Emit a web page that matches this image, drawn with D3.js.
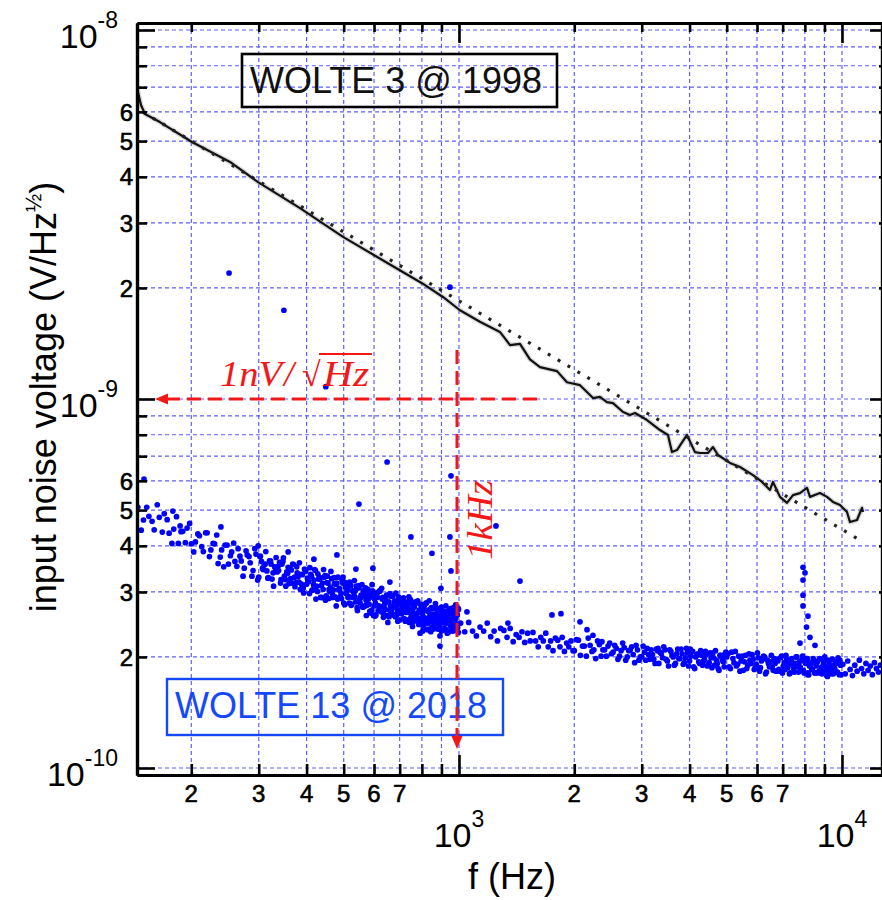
<!DOCTYPE html>
<html><head><meta charset="utf-8">
<script src="https://cdn.jsdelivr.net/npm/d3@7"></script>
<style>body{margin:0;background:#fff}svg{display:block}</style>
</head><body>
<svg id="c" width="882" height="900"></svg>
<script>
// ---------- DATA ----------
// WOLTE 3 @ 1998 measured curve (Hz, nV/sqrt(Hz))
const oldFreq = [144.3,147.8,151.4,165.6,200.9,252.4,298.7,384.5,498,697,800.6,908,1006,1134,1279,1359,1443,1532,1627,1803,1914,2070,2239,2334,2434,2524,2681,2796,2881,3097,3348,3513,3598,3708,3938,4132,4258,4468,4605,4745,5100,5417,5857,6183,6486,6604,6889,7185,7450,7769,8103,8250,8760,9138,9474,9881,10306,10493,10945,11278,11346];
const oldNoise = [6.96,6.26,5.92,5.63,4.97,4.39,3.87,3.29,2.75,2.24,2.06,1.89,1.74,1.62,1.52,1.40,1.41,1.28,1.22,1.19,1.11,1.09,1.006,1.013,0.981,0.975,0.922,0.905,0.916,0.877,0.824,0.799,0.718,0.727,0.799,0.718,0.714,0.714,0.741,0.705,0.671,0.654,0.622,0.596,0.567,0.596,0.543,0.523,0.549,0.556,0.574,0.543,0.556,0.543,0.526,0.516,0.494,0.464,0.470,0.507,0.494];
// WOLTE 3 fit (dotted), nV/sqrt(Hz)
const fitFreq = [149.6, 11011];
const fitNoise = [5.99, 0.4174];

// WOLTE 13 @ 2018 measured points, units of 1e-10 V/sqrt(Hz)
const lowFreqA = [145,150,155,160,165,170,175,180,185,190,195,200,205,210,215,220,225,230,235,240,245,250,255,260,265,270,275,280,285,290,295,300,305,310,315,320,325,330,335,340,345,350,355,360,365,370,375,380,385,390,395,400,405,410,415,420,425,430,435,440,445,450,455,460,465,470,475,480,485,490,495,500,505,510,515,520,525,530,535,540,545,550,555,560,565,570,575,580,585,590,595,600,605,610,615,620,625,630,635,640,645,650,655,660,665,670,675,680,685,690,695,700,705,710,715,720,725,730,735,740,745,750,755,760,765,770,775,780,785,790,795,800,805,810,815,820,825,830,835,840,845,850,855,860,865,870,875,880,885,890,895,900,905,910,915,920,925,930,935,940,945,950,955,960,965,970,975,980,985,990,995];
const lowNoiseA = [5.09,4.70,4.81,4.42,4.78,4.89,4.33,4.44,4.06,4.38,4.47,4.05,4.10,4.26,3.86,4.34,3.90,4.05,3.58,3.90,4.02,3.57,3.85,3.63,3.93,3.64,3.48,3.78,3.60,3.43,3.80,3.29,3.63,3.55,3.42,3.64,3.25,3.51,3.40,3.61,3.57,3.31,3.40,3.16,3.44,3.56,3.18,3.30,3.05,3.34,3.46,3.15,3.20,3.35,3.04,3.45,3.11,3.25,2.90,3.17,3.29,2.93,3.17,3.01,3.26,3.04,2.91,3.17,3.04,2.91,3.23,2.80,3.09,3.02,2.92,3.12,2.78,3.01,2.91,3.11,3.08,2.86,2.94,2.73,2.98,3.08,2.76,2.87,2.66,2.91,3.02,2.75,2.80,2.93,2.67,3.02,2.74,2.87,2.56,2.80,2.91,2.59,2.82,2.67,2.92,2.71,2.60,2.84,2.73,2.61,2.91,2.52,2.79,2.73,2.65,2.82,2.53,2.73,2.65,2.83,2.80,2.61,2.69,2.49,2.73,2.82,2.53,2.63,2.45,2.67,2.78,2.53,2.58,2.70,2.47,2.80,2.54,2.66,2.37,2.60,2.70,2.41,2.61,2.47,2.70,2.51,2.41,2.63,2.53,2.43,2.71,2.35,2.61,2.55,2.47,2.65,2.37,2.57,2.49,2.67,2.65,2.47,2.56,2.38,2.61,2.72,2.44,2.54,2.37,2.60,2.71];
const lowFreqB = [302,307,312,317,322,327,332,337,342,347,352,357,362,367,372,377,382,387,392,397,402,407,412,417,422,427,432,437,442,447,452,457,462,467,472,477,482,487,492,497,502,507,512,517,522,527,532,537,542,547,552,557,562,567,572,577,582,587,592,597,602,607,612,617,622,627,632,637,642,647,652,657,662,667,672,677,682,687,692,697,702,707,712,717,722,727,732,737,742,747,752,757,762,767,772,777,782,787,792,797,802,807,812,817,822,827,832,837,842,847,852,857,862,867,872,877,882,887,892,897,902,907,912,917,922,927,932,937,942,947,952,957,962,967,972,977,982,987,992,997];
const lowNoiseB = [3.74,3.48,3.57,3.27,3.64,3.38,3.47,3.52,3.17,3.63,3.24,3.37,3.48,3.17,3.29,3.51,3.19,3.35,3.07,3.41,3.27,2.97,3.31,3.14,3.43,3.01,3.29,3.12,3.05,3.32,3.18,2.88,3.09,2.96,3.28,3.15,2.87,3.07,2.97,3.17,3.19,2.97,3.05,2.80,3.12,2.90,2.98,3.03,2.72,3.12,2.80,2.91,3.02,2.75,2.85,3.04,2.78,2.92,2.68,2.98,2.87,2.60,2.90,2.75,3.02,2.65,2.90,2.75,2.69,2.94,2.82,2.57,2.75,2.64,2.93,2.82,2.57,2.76,2.67,2.86,2.87,2.68,2.75,2.54,2.82,2.64,2.71,2.76,2.48,2.86,2.55,2.66,2.76,2.52,2.61,2.80,2.55,2.68,2.46,2.75,2.64,2.40,2.68,2.55,2.80,2.46,2.68,2.55,2.49,2.72,2.61,2.38,2.55,2.45,2.72,2.62,2.38,2.56,2.48,2.66,2.68,2.50,2.57,2.37,2.65,2.47,2.55,2.60,2.34,2.70,2.42,2.53,2.63,2.40,2.51,2.69,2.46,2.60,2.40,2.69];
const lowFreqC = [148,153,158,163,168,173,178,183,188,193,198,203,208,213,218,223,228,233,238,243,248,253,258,263,268,273,278,283,288,293,298,303,308,313,318,323,328,333,338,343,348,353,358,363,368,373,378,383,388,393,398,403,408,413,418,423,428,433,438,443,448,453,458,463,468,473,478,483,488,493,498,503,508,513,518,523,528,533,538,543,548,553,558,563,568,573,578,583,588,593,598];
const lowNoiseC = [4.41,5.09,4.66,5.17,4.36,4.71,4.06,4.80,4.37,4.08,4.60,3.85,4.31,3.98,4.34,3.74,4.06,4.28,3.73,3.51,4.02,3.76,4.07,3.52,3.75,3.31,3.88,3.74,3.31,3.93,3.23,3.75,3.45,3.86,3.28,3.57,3.11,3.72,3.43,3.24,3.71,3.11,3.50,3.26,3.57,3.10,3.38,3.60,3.15,2.98,3.42,3.22,3.49,3.03,3.23,2.87,3.36,3.25,2.90,3.45,2.85,3.31,3.05,3.41,2.90,3.16,2.75,3.29,3.04,2.88,3.29,2.77,3.12,2.90,3.19,2.76,3.02,3.22,2.82,2.67,3.08,2.89,3.14,2.73,2.92,2.59,3.05,2.96,2.63,3.14,2.59];
const lowFreqD = [604,612,620,628,636,644,652,660,668,676,684,692,700,708,716,724,732,740,748,756,764,772,780,788,796,804,812,820,828,836,844,852,860,868,876,884,892,900,908,916,924,932,940,948,956,964,972,980,988,996];
const lowNoiseD = [2.58,2.99,2.74,3.07,2.61,2.85,2.48,2.97,2.74,2.60,2.98,2.50,2.82,2.62,2.89,2.50,2.73,2.91,2.55,2.42,2.78,2.61,2.84,2.47,2.65,2.35,2.76,2.67,2.37,2.84,2.34,2.71,2.50,2.79,2.39,2.61,2.28,2.73,2.53,2.39,2.75,2.32,2.62,2.44,2.71,2.35,2.59,2.77,2.45,2.33];
const midFreq = [1010,1035,1060,1085,1110,1135,1160,1185,1210,1235,1260,1285,1310,1335,1360,1385,1410,1435,1460,1485,1510,1535,1560,1585,1610,1635,1660,1685,1710,1735,1760,1785,1810,1835,1860,1885,1910,1935,1960,1985];
const midNoise = [2.47,2.34,2.48,2.35,2.28,2.41,2.35,2.47,2.27,2.35,2.21,2.39,2.36,2.26,2.39,2.20,2.30,2.26,2.34,2.19,2.32,2.21,2.33,2.21,2.13,2.26,2.21,2.32,2.13,2.21,2.08,2.25,2.22,2.13,2.26,2.07,2.18,2.13,2.21,2.08];
const highFreqA = [2000,2050,2100,2150,2200,2250,2300,2350,2400,2450,2500,2550,2600,2650,2700,2750,2800,2850,2900,2950,3000,3050,3100,3150,3200,3250,3300,3350,3400,3450,3500,3550,3600,3650,3700,3750,3800,3850,3900,3950,4000,4050,4100,4150,4200,4250,4300,4350,4400,4450,4500,4550,4600,4650,4700,4750,4800,4850,4900,4950];
const highNoiseA = [2.08,2.22,2.14,2.01,2.15,2.09,2.21,2.01,2.09,2.14,2.04,2.15,1.97,2.08,2.12,2.00,2.09,2.03,2.15,1.96,2.00,2.06,2.11,1.97,2.03,1.92,2.08,2.06,1.99,2.09,1.95,2.09,2.02,1.90,2.04,1.98,2.10,1.91,1.99,2.05,1.95,2.07,1.88,2.00,2.04,1.92,2.02,1.95,2.07,1.89,1.93,1.99,2.05,1.90,1.96,1.86,2.02,2.00,1.94,2.04];
const highFreqB = [2025,2075,2125,2175,2225,2275,2325,2375,2425,2475,2525,2575,2625,2675,2725,2775,2825,2875,2925,2975,3025,3075,3125,3175,3225,3275,3325,3375,3425,3475,3525,3575,3625,3675,3725,3775,3825,3875,3925,3975,4025,4075,4125,4175,4225,4275,4325,4375,4425,4475,4525,4575,4625,4675,4725,4775,4825,4875,4925,4975];
const highNoiseB = [2.23,2.02,2.14,2.25,2.07,1.98,2.16,2.09,2.01,2.18,2.06,2.11,2.01,2.18,1.96,2.08,2.13,1.93,2.09,2.00,2.14,1.96,2.03,2.09,1.97,2.10,1.92,2.04,2.13,1.97,1.89,2.07,2.00,1.92,2.10,1.98,2.04,1.93,2.11,1.89,2.01,2.07,1.86,2.02,1.94,2.08,1.90,1.97,2.03,1.91,2.05,1.87,1.99,2.08,1.92,1.84,2.02,1.96,1.88,2.06];
const highFreqC = [5000,5075,5150,5225,5300,5375,5450,5525,5600,5675,5750,5825,5900,5975,6050,6125,6200,6275,6350,6425,6500,6575,6650,6725,6800,6875,6950,7025,7100,7175,7250,7325,7400,7475,7550,7625,7700,7775,7850,7925,8000,8075,8150,8225,8300,8375,8450,8525,8600,8675,8750,8825,8900,8975,9050,9125,9200,9275,9350,9425,9500,9575,9650,9725,9800,9875,9950];
const highNoiseC = [2.00,1.88,2.06,1.93,1.89,2.01,1.95,1.84,2.02,1.90,1.96,2.03,1.85,1.91,1.99,1.87,1.97,2.00,1.82,1.92,1.94,1.88,1.98,1.83,1.95,1.83,2.01,1.89,1.85,1.97,1.91,1.81,1.98,1.86,1.92,2.00,1.82,1.88,1.96,1.84,1.94,1.98,1.81,1.89,1.91,1.85,1.95,1.81,1.93,1.81,1.98,1.87,1.83,1.95,1.89,1.79,1.96,1.84,1.90,1.97,1.80,1.86,1.94,1.82,1.92,1.96,1.79];
const highFreqD = [5040,5115,5190,5265,5340,5415,5490,5565,5640,5715,5790,5865,5940,6015,6090,6165,6240,6315,6390,6465,6540,6615,6690,6765,6840,6915,6990,7065,7140,7215,7290,7365,7440,7515,7590,7665,7740,7815,7890,7965,8040,8115,8190,8265,8340,8415,8490,8565,8640,8715,8790,8865,8940,9015,9090,9165,9240,9315,9390,9465,9540,9615,9690,9765,9840,9915];
const highNoiseD = [2.04,1.86,1.98,2.07,1.91,1.83,2.01,1.94,1.86,2.04,1.92,1.97,1.87,2.05,1.83,1.95,2.01,1.80,1.96,1.88,2.02,1.84,1.92,1.97,1.85,1.99,1.81,1.93,2.02,1.87,1.80,1.96,1.90,1.82,2.00,1.88,1.94,1.84,2.01,1.81,1.92,1.98,1.79,1.93,1.85,1.98,1.81,1.89,1.95,1.83,1.97,1.80,1.91,2.00,1.85,1.77,1.94,1.88,1.80,1.97,1.86,1.92,1.82,1.99,1.79,1.90];
const topFreq = [10050,10200,10350,10500,10650,10800,10950,11100,11250,11400,11550,11700,11850,12000,12150,12300,12450,12600];
const topNoise = [1.91,1.80,1.95,1.85,1.78,1.90,1.83,1.96,1.86,1.80,1.92,1.84,1.89,1.79,1.93,1.86,1.82,1.90];
const outlierFreq = [251,349,947,449,649,548,953,749,947,850,953,1249,1443,150.5,179,239,299,358,418,480,538,596,660,897,892,1049,1749,1846,1342,2238,791,2159,2362,2070,4016,3308,187,7911,8007,7911,7911,7911,8151,8079,8250,7769,8503,8151];
const outlierNoise = [21.95,17.4,20.1,10.8,6.75,5.19,6.19,4.23,4.23,3.82,3.42,4.53,3.21,6.07,4.97,4.50,4.0,3.85,3.68,3.78,3.46,3.48,3.19,3.07,2.14,2.65,2.60,2.62,2.47,2.29,2.32,2.37,2.20,2.49,2.10,2.11,4.53,3.50,3.38,3.23,2.94,2.75,2.58,2.41,2.26,2.18,2.15,1.79];

// axis tick definitions
const mantissas = [1,2,3,4,5,6,7,8,9];
const xDecades = [100,1000,10000];
const yDecades = [1e-10,1e-9,1e-8];
const xMinorLabels = [2,3,4,5,6,7];
const yMinorLabels = [2,3,4,5,6];
const xMajorLabels = [["10","3",1000],["10","4",10000]];
const yMajorLabels = [["10","-8",1e-8],["10","-9",1e-9],["10","-10",1e-10]];

// ---------- CHART ----------
const L=137, R=882, T=23, B=775;
const svg = d3.select('#c');
const x = d3.scaleLog().domain([144.3, 12720]).range([L, R]);
const y = d3.scaleLog().domain([9.573e-11, 1.0447e-8]).range([B, T]);
const NV = 1e-9, TENTH = 1e-10;
const sans = 'Liberation Sans, Arial, sans-serif';
const serif = 'Liberation Serif, Times New Roman, serif';

const [fx0, fx1] = x.domain(), [vy0, vy1] = y.domain();
const xAll = xDecades.flatMap(d => mantissas.map(m => m*d)).filter(v => v >= fx0 && v <= fx1);
const yAll = yDecades.flatMap(d => mantissas.map(m => m*d)).filter(v => v >= vy0*0.999 && v <= vy1);
const xDec = xAll.filter(v => xDecades.includes(v));
const yDec = yAll.filter(v => yDecades.some(d => Math.abs(v-d)/d < 1e-6));

// grid
const grid = svg.append('g').attr('stroke', '#5f5fff').attr('stroke-width', 1.2).attr('stroke-dasharray', '4,3');
grid.selectAll('.gx').data(xAll).join('line').attr('x1', d => x(d)).attr('x2', d => x(d)).attr('y1', T).attr('y2', B);
grid.selectAll('.gy').data(yAll).join('line').attr('y1', d => y(d)).attr('y2', d => y(d)).attr('x1', L).attr('x2', R);

// clip
svg.append('clipPath').attr('id', 'clip').append('rect').attr('x', L).attr('y', T).attr('width', R-L).attr('height', B-T);
const plot = svg.append('g').attr('clip-path', 'url(#clip)');

// old curve
const oldPts = oldFreq.map((f,i) => [f, oldNoise[i]*NV]);
const line = d3.line().x(d => x(d[0])).y(d => y(d[1]));
plot.append('path').datum(oldPts).attr('d', line).attr('fill','none').attr('stroke','#999').attr('stroke-opacity',0.35).attr('stroke-width',5).attr('stroke-linejoin','round');
plot.append('path').datum(oldPts).attr('d', line).attr('fill','none').attr('stroke','#111').attr('stroke-width',2.2).attr('stroke-linejoin','round');
const fitPts = fitFreq.map((f,i) => [f, fitNoise[i]*NV]);
plot.append('path').datum(fitPts).attr('d', line).attr('fill','none').attr('stroke','#222').attr('stroke-width',3.2).attr('stroke-dasharray','3,8.5');

// new points
const sets = [[lowFreqA,lowNoiseA],[lowFreqB,lowNoiseB],[lowFreqC,lowNoiseC],[lowFreqD,lowNoiseD],[midFreq,midNoise],[highFreqA,highNoiseA],[highFreqB,highNoiseB],[highFreqC,highNoiseC],[highFreqD,highNoiseD],[topFreq,topNoise],[outlierFreq,outlierNoise]];
const newPts = sets.flatMap(([fs, vs]) => fs.map((f,i) => [f, vs[i]*TENTH]).filter(d => d[1] != null && !isNaN(d[1])));
plot.append('g').selectAll('circle').data(newPts).join('circle')
  .attr('cx', d => x(d[0])).attr('cy', d => y(d[1])).attr('r', 2.85).attr('fill', '#0000ff');

// axes (ticks via d3 axes)
function styleAxis(g){ g.selectAll('path.domain').attr('stroke','#000').attr('stroke-width',3.2); g.selectAll('.tick line').attr('stroke','#000').attr('stroke-width',2.6); g.selectAll('text').remove(); }
const xMinor = xAll.filter(v => !xDec.includes(v));
const yMinor = yAll.filter(v => !yDec.includes(v));
svg.append('g').attr('transform',`translate(0,${B})`).call(d3.axisBottom(x).tickValues(xMinor).tickSize(-11).tickSizeOuter(0)).call(styleAxis);
svg.append('g').attr('transform',`translate(0,${B})`).call(d3.axisBottom(x).tickValues(xDec).tickSize(-20).tickSizeOuter(0)).call(styleAxis);
svg.append('g').attr('transform',`translate(0,${T})`).call(d3.axisTop(x).tickValues(xMinor).tickSize(-9).tickSizeOuter(0)).call(styleAxis);
svg.append('g').attr('transform',`translate(0,${T})`).call(d3.axisTop(x).tickValues(xDec).tickSize(-20).tickSizeOuter(0)).call(styleAxis);
svg.append('g').attr('transform',`translate(${L},0)`).call(d3.axisLeft(y).tickValues(yMinor).tickSize(-10).tickSizeOuter(0)).call(styleAxis);
svg.append('g').attr('transform',`translate(${L},0)`).call(d3.axisLeft(y).tickValues(yDec).tickSize(-18).tickSizeOuter(0)).call(styleAxis);
svg.append('g').attr('transform',`translate(${R},0)`).call(d3.axisRight(y).tickValues(yMinor).tickSize(-3).tickSizeOuter(0)).call(styleAxis);
svg.append('g').attr('transform',`translate(${R},0)`).call(d3.axisRight(y).tickValues(yDec).tickSize(-12).tickSizeOuter(0)).call(styleAxis);

// tick labels
const lab = svg.append('g').attr('font-family', sans).attr('fill', '#000');
const tl = lab.append('g').attr('stroke','#000').attr('stroke-width',0.6);
tl.selectAll('.xl').data(xDecades.slice(0,2).flatMap(d => xMinorLabels.map(m => [m, m*d]))).join('text')
  .attr('x', d => x(d[1])).attr('y', 802).attr('text-anchor','middle').attr('font-size', 24).text(d => d[0]);
tl.selectAll('.yl').data(yDecades.slice(0,2).flatMap(d => yMinorLabels.map(m => [m, m*d]))).join('text')
  .attr('x', 133).attr('y', d => y(d[1])).attr('dy','0.36em').attr('text-anchor','end').attr('font-size', 24).text(d => d[0]);
xMajorLabels.forEach(([b,e,v]) => {
  const t = lab.append('text').attr('x', x(v)).attr('y', 847).attr('text-anchor','middle');
  t.append('tspan').attr('font-size', 34).text(b);
  t.append('tspan').attr('font-size', 23).attr('dy', -20).text(e);
});
yMajorLabels.forEach(([b,e,v]) => {
  const t = lab.append('text').attr('x', 118).attr('y', y(v)+18).attr('text-anchor','end');
  t.append('tspan').attr('font-size', 34).text(b);
  t.append('tspan').attr('font-size', 23).attr('dy', -20).text(e);
});
// axis titles
lab.append('text').attr('x', 512).attr('y', 889).attr('text-anchor','middle').attr('font-size', 36).text('f (Hz)');
const yt = lab.append('text').attr('transform','translate(56,397) rotate(-90)').attr('text-anchor','middle').attr('font-size', 36);
yt.append('tspan').text('input noise voltage (V/Hz');
yt.append('tspan').attr('font-size', 22).attr('dy', -15).text('½');
yt.append('tspan').attr('dy', 15).text(')');

// legend boxes
svg.append('rect').attr('x',242).attr('y',54).attr('width',315).attr('height',53).attr('fill','none').attr('stroke','#000').attr('stroke-width',2.6);
svg.append('text').attr('x',250).attr('y',93).attr('font-family',sans).attr('font-size',36).attr('fill','#111').text('WOLTE 3 @ 1998');
svg.append('rect').attr('x',167).attr('y',679).attr('width',336).attr('height',56).attr('fill','none').attr('stroke','#1448ff').attr('stroke-width',2.4);
svg.append('text').attr('x',175).attr('y',718).attr('font-family',sans).attr('font-size',36).attr('fill','#1448ff').text('WOLTE 13 @ 2018');

// red annotations
const red = '#f21818';
const ann = svg.append('g');
const y1n = y(1e-9), x1k = x(1000) - 2;
ann.append('line').attr('x1',166).attr('x2',538).attr('y1',y1n).attr('y2',y1n).attr('stroke',red).attr('stroke-width',3).attr('stroke-dasharray','14,7');
ann.append('path').attr('d',`M155,${y1n} L168,${y1n-5.5} L168,${y1n+5.5} Z`).attr('fill',red);
ann.append('line').attr('x1',x1k).attr('x2',x1k).attr('y1',350).attr('y2',738).attr('stroke',red).attr('stroke-width',3).attr('stroke-dasharray','14,7');
ann.append('path').attr('d',`M${x1k},749 L${x1k-5.5},736 L${x1k+5.5},736 Z`).attr('fill',red);
const rt = ann.append('g').attr('font-family', serif).attr('fill', red).attr('font-size', 36);
rt.append('text').attr('x',220).attr('y',386).attr('font-style','italic').attr('textLength',62).attr('lengthAdjust','spacingAndGlyphs').text('1nV');
rt.append('text').attr('x',284).attr('y',386).attr('font-style','italic').text('/');
rt.append('text').attr('x',302).attr('y',386).attr('font-size',34).text('√');
rt.append('text').attr('x',323).attr('y',386).attr('font-style','italic').attr('textLength',46).attr('lengthAdjust','spacingAndGlyphs').text('Hz');
ann.append('line').attr('x1',319).attr('x2',372).attr('y1',354).attr('y2',354).attr('stroke',red).attr('stroke-width',2.2);
rt.append('text').attr('transform','translate(492,560) rotate(-90)').attr('font-style','italic').attr('textLength',80).attr('lengthAdjust','spacingAndGlyphs').text('1kHz');
</script>
</body></html>
